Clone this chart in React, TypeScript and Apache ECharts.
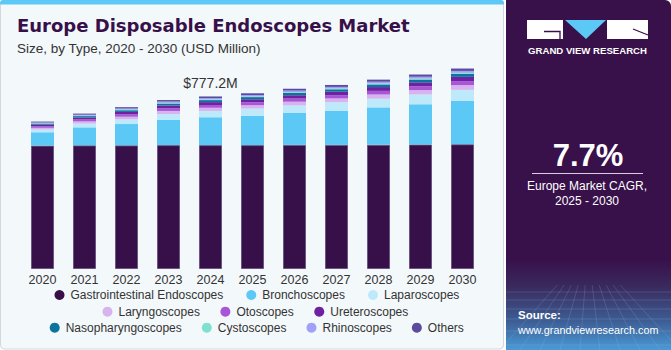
import React, { useEffect, useRef } from "react";
import * as echarts from "echarts";

const years = ["2020", "2021", "2022", "2023", "2024", "2025", "2026", "2027", "2028", "2029", "2030"];

const gastrointestinal = [556, 557, 557, 558, 558, 558, 559, 559, 560, 561, 562];
const bronchoscopes = [60, 81, 96, 114, 125.5, 132, 144, 154, 168, 181, 195];
const laparoscopes = [12, 17, 21, 26, 28.4, 32.5, 34, 38, 39, 44, 50];
const laryngoscopes = [8, 10, 12, 14, 14.4, 15.2, 16.5, 17.2, 19, 19.8, 21.1];
const otoscopes = [7, 8.5, 10.5, 12, 12.4, 13.1, 14.2, 14.8, 16.3, 17.1, 18.2];
const ureteroscopes = [7, 9, 11, 12.6, 13, 13.8, 15, 15.6, 17.2, 18, 19.2];
const nasopharyngoscopes = [5, 6.3, 7.7, 8.8, 9.1, 9.7, 10.5, 10.9, 12, 12.6, 13.4];
const cystoscopes = [2, 2.2, 2.7, 3.1, 3.2, 3.4, 3.7, 3.9, 4.3, 4.5, 4.8];
const rhinoscopes = [3, 4, 5, 5.7, 5.9, 6.2, 6.8, 7, 7.7, 8.1, 8.6];
const others = [4, 5, 6.1, 6.8, 7.3, 7.6, 8.3, 8.6, 9.5, 9.9, 10.7];

const labelIndex = 4;
const labelText = "$777.2M";

const seriesDefs = [
  { name: "Gastrointestinal Endoscopes", data: gastrointestinal, color: "#37104a" },
  { name: "Bronchoscopes", data: bronchoscopes, color: "#5bc8f5" },
  { name: "Laparoscopes", data: laparoscopes, color: "#bde9fb" },
  { name: "Laryngoscopes", data: laryngoscopes, color: "#d8b4ef" },
  { name: "Otoscopes", data: otoscopes, color: "#a855d8" },
  { name: "Ureteroscopes", data: ureteroscopes, color: "#6e229f" },
  { name: "Nasopharyngoscopes", data: nasopharyngoscopes, color: "#0b739e" },
  { name: "Cystoscopes", data: cystoscopes, color: "#7fe0cc" },
  { name: "Rhinoscopes", data: rhinoscopes, color: "#a0a0f8" },
  { name: "Others", data: others, color: "#5b4b9e" },
];

const legendRows = [
  { names: ["Gastrointestinal Endoscopes", "Bronchoscopes", "Laparoscopes"], left: 54.5, top: 289, gap: 23 },
  { names: ["Laryngoscopes", "Otoscopes", "Ureteroscopes"], left: 102.5, top: 305.7, gap: 20.5 },
  { names: ["Nasopharyngoscopes", "Cystoscopes", "Rhinoscopes", "Others"], left: 49.7, top: 321.7, gap: 20 },
];

export default function App() {
  const ref = useRef<HTMLDivElement>(null);

  useEffect(() => {
    document.body.style.margin = "0";
    const chart = echarts.init(ref.current!, null, { renderer: "svg" });

    const series = seriesDefs.map((s, si) => ({
      name: s.name,
      type: "bar",
      stack: "total",
      barWidth: 23,
      itemStyle: si === 0
        ? { color: s.color, borderColor: "#6a5683", borderWidth: 1 }
        : { color: s.color },
      emphasis: { disabled: true },
      data: s.data.map((v, i) =>
        si === seriesDefs.length - 1 && i === labelIndex
          ? {
              value: v,
              label: {
                show: true,
                position: "top",
                distance: 6,
                formatter: labelText,
                fontSize: 14,
                color: "#333333",
                fontFamily: "Liberation Sans, Arial, sans-serif",
              },
            }
          : v
      ),
    }));

    const legend = legendRows.map((r) => ({
      data: r.names,
      left: r.left,
      top: r.top,
      orient: "horizontal",
      padding: 0,
      itemGap: r.gap,
      itemWidth: 10,
      itemHeight: 10,
      icon: "circle",
      selectedMode: false,
      itemStyle: { borderWidth: 0 },
      textStyle: { fontSize: 12, color: "#333333", fontFamily: "Liberation Sans, Arial, sans-serif", padding: [0, 0, 0, 1] },
    }));

    const meshLines: any[] = [];
    const hy = [292, 300, 309, 319, 331, 345];
    hy.forEach((y) =>
      meshLines.push({
        type: "line",
        shape: { x1: 506, y1: y, x2: 671, y2: y },
        style: { stroke: "rgba(170,200,240,0.18)", lineWidth: 1 },
        silent: true,
      })
    );
    const vx = [500, 520, 540, 560, 580, 600, 620, 640, 660, 680];
    vx.forEach((x) =>
      meshLines.push({
        type: "line",
        shape: { x1: 588 + (x - 588) * 0.35, y1: 285, x2: x, y2: 350 },
        style: { stroke: "rgba(170,200,240,0.18)", lineWidth: 1 },
        silent: true,
      })
    );

    chart.setOption({
      animation: false,
      backgroundColor: "#ffffff",
      grid: { left: 21.5, right: 187.5, top: 47, bottom: 81 },
      xAxis: {
        type: "category",
        data: years,
        axisLine: { show: false },
        axisTick: { show: false },
        axisLabel: { fontSize: 12.5, color: "#333333", margin: 4, fontFamily: "Liberation Sans, Arial, sans-serif" },
      },
      yAxis: { type: "value", min: 0, max: 1000, show: false, splitLine: { show: false } },
      legend,
      series,
      graphic: [
        {
          type: "rect",
          z: -10,
          shape: { x: 0.5, y: 0.5, width: 503, height: 348.5, r: 4 },
          style: { fill: "#f3f8fb", stroke: "#d3d8dc", lineWidth: 1 },
          silent: true,
        },
        {
          type: "rect",
          z: -9,
          shape: { x: 0, y: 0, width: 504, height: 4.5, r: [3, 3, 0, 0] },
          style: { fill: "#5bc8f5" },
          silent: true,
        },
        {
          type: "text",
          left: 17,
          top: 16,
          style: {
            text: "Europe Disposable Endoscopes Market",
            fontSize: 18,
            fontWeight: "bold",
            fill: "#37104a",
            fontFamily: "DejaVu Sans, sans-serif",
          },
        },
        {
          type: "text",
          left: 17,
          top: 41,
          style: {
            text: "Size, by Type, 2020 - 2030 (USD Million)",
            fontSize: 13.5,
            fill: "#333333",
            fontFamily: "Liberation Sans, Arial, sans-serif",
          },
        },
        {
          type: "rect",
          z: -10,
          shape: { x: 506, y: 0, width: 165, height: 350, r: [0, 6, 0, 0] },
          style: {
            fill: new echarts.graphic.LinearGradient(0, 0, 0, 1, [
              { offset: 0, color: "#38104a" },
              { offset: 0.74, color: "#38104a" },
              { offset: 0.82, color: "#3a2a5e" },
              { offset: 0.92, color: "#3d5f96" },
              { offset: 1, color: "#4a9ad6" },
            ]),
          },
          silent: true,
        },
        ...meshLines,
        {
          type: "rect",
          shape: { x: 527, y: 20, width: 36, height: 19 },
          style: { fill: "#ffffff" },
          silent: true,
        },
        {
          type: "polyline",
          shape: { points: [[544, 31.5], [560, 31.5], [560, 39]] },
          style: { stroke: "#38104a", lineWidth: 1.3, fill: "none" },
          silent: true,
        },
        {
          type: "polygon",
          shape: { points: [[565, 20], [606, 20], [586, 39]] },
          style: { fill: "#5bc8f5" },
          silent: true,
        },
        {
          type: "rect",
          shape: { x: 607, y: 20, width: 41, height: 19 },
          style: { fill: "#ffffff" },
          silent: true,
        },
        {
          type: "polyline",
          shape: { points: [[633, 29], [648, 35]] },
          style: { stroke: "#38104a", lineWidth: 1.3, fill: "none" },
          silent: true,
        },
        {
          type: "text",
          x: 587.5,
          y: 50,
          style: {
            text: "GRAND VIEW RESEARCH",
            fontSize: 9.6,
            fontWeight: "bold",
            fill: "#ffffff",
            align: "center",
            verticalAlign: "middle",
            fontFamily: "Liberation Sans, Arial, sans-serif",
          },
        },
        {
          type: "text",
          x: 588,
          y: 155,
          style: {
            text: "7.7%",
            fontSize: 31,
            fontWeight: "bold",
            fill: "#ffffff",
            align: "center",
            verticalAlign: "middle",
            fontFamily: "Liberation Sans, Arial, sans-serif",
          },
        },
        {
          type: "line",
          shape: { x1: 532, y1: 173.5, x2: 643, y2: 173.5 },
          style: { stroke: "#d8d0e0", lineWidth: 1 },
          silent: true,
        },
        {
          type: "text",
          x: 587,
          y: 186,
          style: {
            text: "Europe Market CAGR,",
            fontSize: 12,
            fill: "#ffffff",
            align: "center",
            verticalAlign: "middle",
            fontFamily: "Liberation Sans, Arial, sans-serif",
          },
        },
        {
          type: "text",
          x: 587,
          y: 201,
          style: {
            text: "2025 - 2030",
            fontSize: 12,
            fill: "#ffffff",
            align: "center",
            verticalAlign: "middle",
            fontFamily: "Liberation Sans, Arial, sans-serif",
          },
        },
        {
          type: "text",
          x: 518,
          y: 315,
          style: {
            text: "Source:",
            fontSize: 11.5,
            fontWeight: "bold",
            fill: "#ffffff",
            align: "left",
            verticalAlign: "middle",
            fontFamily: "Liberation Sans, Arial, sans-serif",
          },
        },
        {
          type: "text",
          x: 518,
          y: 329.5,
          style: {
            text: "www.grandviewresearch.com",
            fontSize: 10.8,
            fill: "#ffffff",
            align: "left",
            verticalAlign: "middle",
            fontFamily: "Liberation Sans, Arial, sans-serif",
          },
        },
      ],
    });

    return () => chart.dispose();
  }, []);

  return <div ref={ref} style={{ width: 671, height: 350 }} />;
}
